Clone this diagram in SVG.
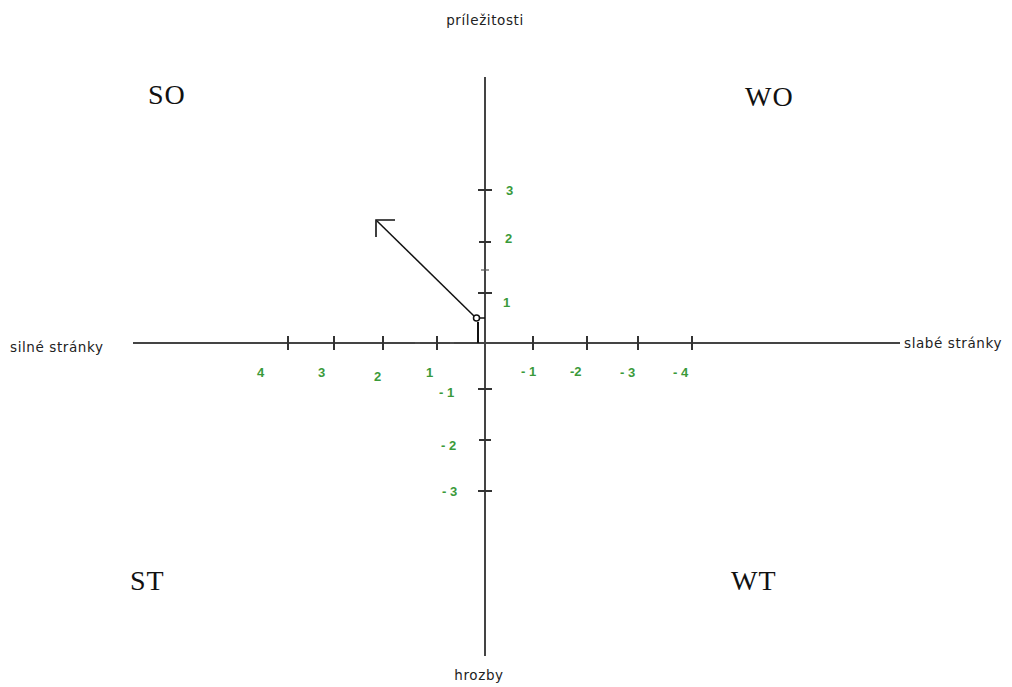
<svg xmlns="http://www.w3.org/2000/svg" width="1012" height="687" viewBox="0 0 1012 687">
<style>
.ax{stroke:#444;stroke-width:2;fill:none}
.tk{stroke:#333;stroke-width:2}
.sm{stroke:#555;stroke-width:1.2}
.lbl{font-family:"DejaVu Sans",Verdana,sans-serif;font-size:13.5px;fill:#222;letter-spacing:0.6px}
.num{font-family:"Liberation Sans",Arial,sans-serif;font-size:13px;fill:#3a9a3a;font-weight:bold}
.q{font-family:"Liberation Serif","Times New Roman",serif;font-size:28px;fill:#111;letter-spacing:1px}
</style>
<rect width="1012" height="687" fill="#fff"/>
<g id="axes">
<line class="ax" x1="485" y1="77" x2="485" y2="656"/>
<line class="ax" x1="133" y1="343" x2="900" y2="343"/>
</g>
<g id="ticks">
<line class="tk" x1="288" y1="336" x2="288" y2="350"/>
<line class="tk" x1="334" y1="336" x2="334" y2="350"/>
<line class="tk" x1="383" y1="336" x2="383" y2="350"/>
<line class="tk" x1="437" y1="336" x2="437" y2="350"/>
<line class="sm" x1="415" y1="343" x2="420" y2="343"/>
<line class="sm" x1="450" y1="343" x2="454" y2="343"/>
<line class="tk" x1="533" y1="336" x2="533" y2="350"/>
<line class="tk" x1="587" y1="336" x2="587" y2="350"/>
<line class="tk" x1="638" y1="336" x2="638" y2="350"/>
<line class="tk" x1="692" y1="336" x2="692" y2="350"/>
<line class="tk" x1="478" y1="190" x2="492" y2="190"/>
<line class="tk" x1="479" y1="242" x2="491" y2="242"/>
<line class="sm" x1="481" y1="270" x2="489" y2="270"/>
<line class="tk" x1="478" y1="293" x2="492" y2="293"/>
<line class="tk" x1="478" y1="389" x2="492" y2="389"/>
<line class="tk" x1="479" y1="440" x2="491" y2="440"/>
<line class="tk" x1="478" y1="491" x2="492" y2="491"/>
</g>
<g id="numbers">
<text class="num" x="506" y="195">3</text>
<text class="num" x="505" y="243">2</text>
<text class="num" x="503" y="307">1</text>
<text class="num" x="257" y="377">4</text>
<text class="num" x="318" y="377">3</text>
<text class="num" x="374" y="381">2</text>
<text class="num" x="426" y="377">1</text>
<text class="num" x="521" y="376">- 1</text>
<text class="num" x="570" y="376">-2</text>
<text class="num" x="620" y="377">- 3</text>
<text class="num" x="673" y="377">- 4</text>
<text class="num" x="439" y="397">- 1</text>
<text class="num" x="441" y="450">- 2</text>
<text class="num" x="442" y="496">- 3</text>
</g>
<g id="vector">
<line x1="474" y1="316" x2="377" y2="221" stroke="#111" stroke-width="1.5"/>
<polyline points="395,220 376,220 376,237" fill="none" stroke="#111" stroke-width="1.6"/>
<line x1="478" y1="322" x2="478" y2="343" stroke="#111" stroke-width="2"/>
<line x1="480" y1="318" x2="485" y2="318" stroke="#111" stroke-width="1.5"/>
<circle cx="476.5" cy="318" r="3" fill="#fff" stroke="#111" stroke-width="1.5"/>
</g>
<g id="axis-labels">
<text class="lbl" x="485" y="25" text-anchor="middle">príležitosti</text>
<text class="lbl" x="10" y="352">silné stránky</text>
<text class="lbl" x="904" y="348">slabé stránky</text>
<text class="lbl" x="479" y="680" text-anchor="middle">hrozby</text>
</g>
<g id="quadrants">
<text class="q" x="148" y="104">SO</text>
<text class="q" x="745" y="106">WO</text>
<text class="q" x="130" y="590">ST</text>
<text class="q" x="731" y="590">WT</text>
</g>
</svg>
